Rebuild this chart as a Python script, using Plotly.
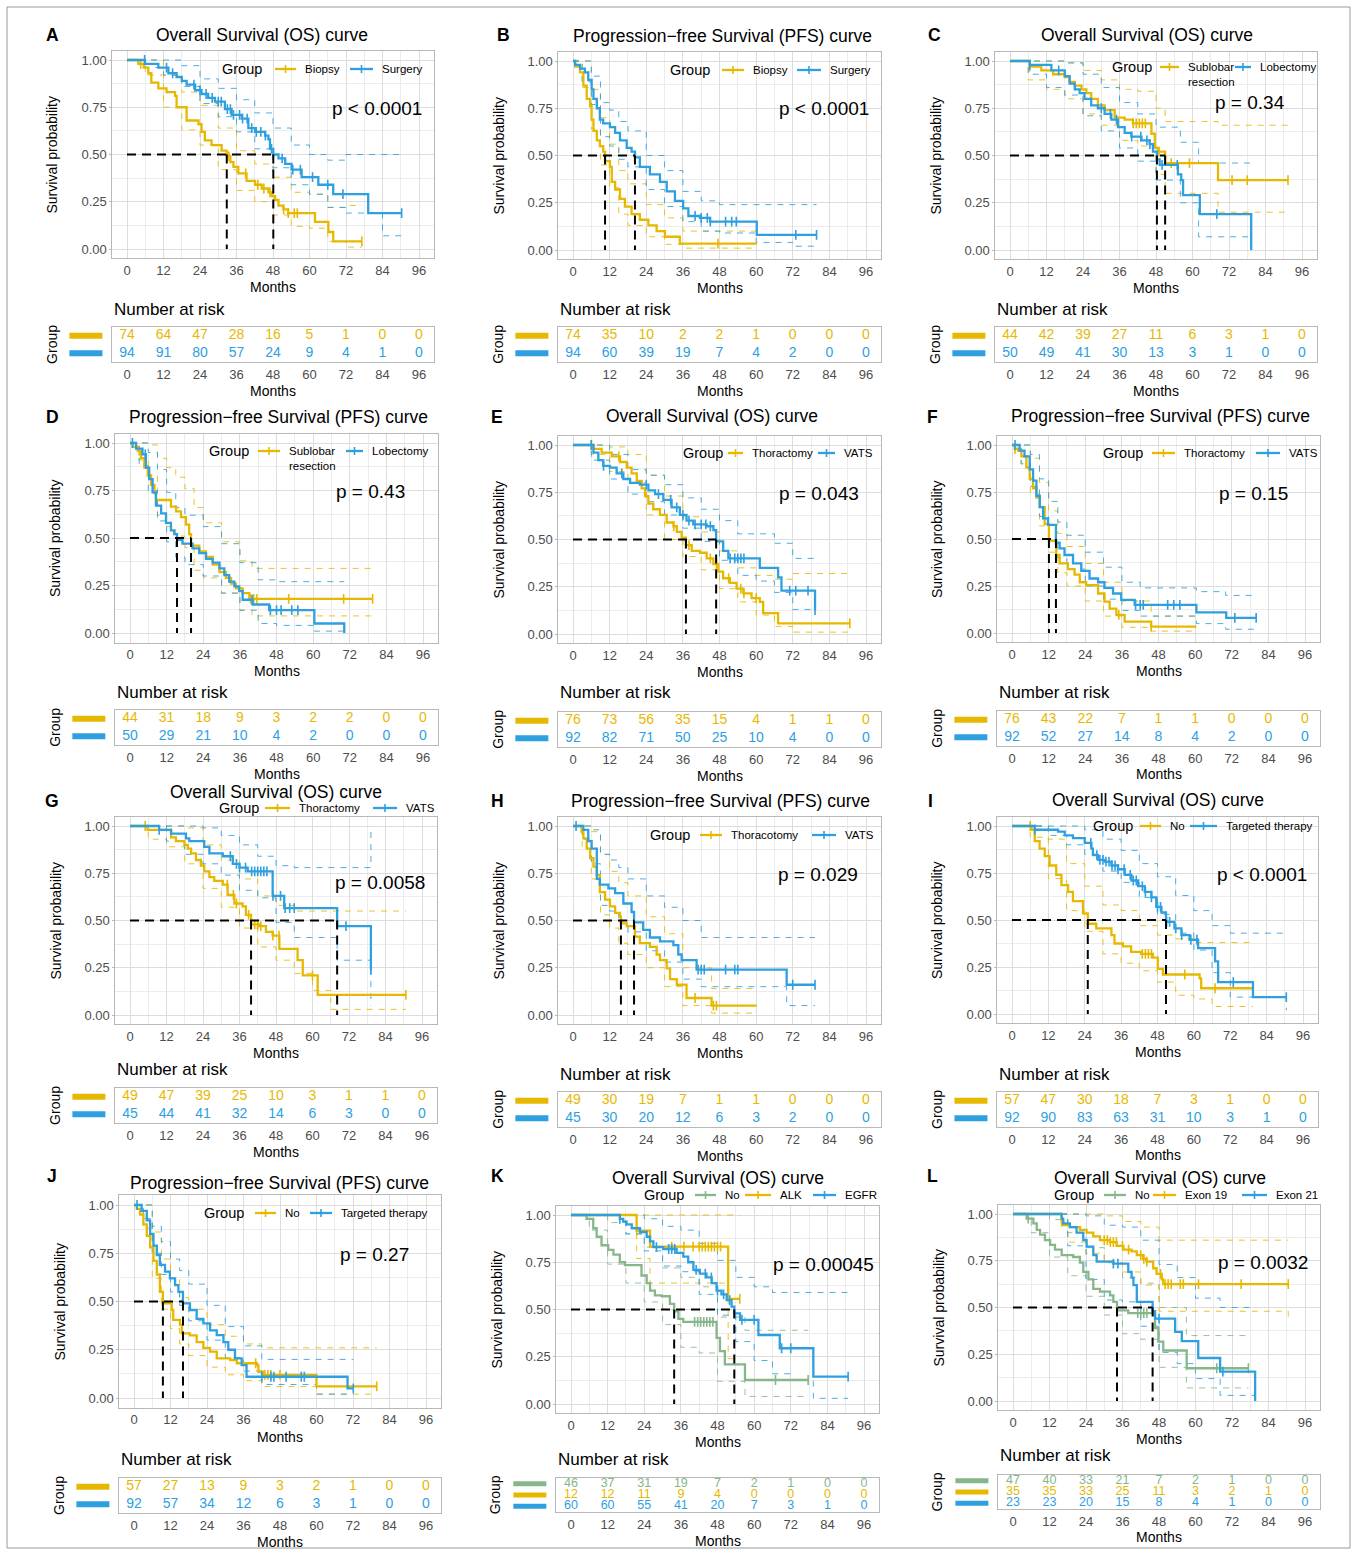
import numpy as np
import plotly.graph_objects as go

W, H = 1357, 1550
YEL, BLU, GRN = "#E7B800", "#2E9FDF", "#86B68A"
FONT = "Liberation Sans, Arial, sans-serif"
MONTHS = [0, 12, 24, 36, 48, 60, 72, 84, 96]
OS = "Overall Survival (OS) curve"
PFS = "Progression\u2212free Survival (PFS) curve"

# ---------------- Panel A ----------------
A_bio_t = [0, 3.7, 5.5, 7, 8, 10.3, 13, 15.8, 16.3, 19.6, 23.5, 24.5, 25.6, 27.8, 31.1, 32.8, 34, 35, 36.6, 39.3, 42.1, 44.3, 46.5, 47.6, 48.7, 49.8, 51.4, 53, 61.8, 66.2, 67.8, 77.2]
A_bio_s = [1, 0.98, 0.96, 0.93, 0.88, 0.85, 0.83, 0.81, 0.75, 0.68, 0.66, 0.62, 0.575, 0.55, 0.52, 0.49, 0.46, 0.435, 0.40, 0.36, 0.34, 0.32, 0.30, 0.28, 0.26, 0.23, 0.21, 0.19, 0.143, 0.09, 0.04, 0.04]
A_bio_c = [4.5, 33.5, 39, 43, 45, 47, 51.5, 53, 55, 56, 77.2]
A_bio_ct = [0, 6, 12, 18, 24, 30, 36, 42, 48, 54, 60, 66, 72, 77.2]
A_bio_up = [1, 1, 0.92, 0.83, 0.76, 0.64, 0.52, 0.45, 0.38, 0.30, 0.29, 0.22, 0.23, 0.23]
A_bio_lo = [1, 0.92, 0.75, 0.63, 0.55, 0.42, 0.31, 0.25, 0.18, 0.12, 0.11, 0.04, 0.01, 0.01]
A_sur_t = [0, 5.9, 10.3, 13.6, 16.3, 18, 19.6, 22.4, 24.5, 26.7, 28.9, 32.2, 34.4, 37.7, 39.9, 42.1, 45.4, 46.5, 47, 48.1, 49.8, 52, 54.1, 57.4, 62.9, 67.8, 79.3, 90.3]
A_sur_s = [1, 0.98, 0.96, 0.93, 0.91, 0.89, 0.87, 0.84, 0.82, 0.80, 0.78, 0.74, 0.71, 0.69, 0.64, 0.62, 0.60, 0.58, 0.53, 0.50, 0.48, 0.45, 0.42, 0.38, 0.34, 0.29, 0.19, 0.19]
A_sur_c = [5.8, 13, 15, 22, 24, 26, 28, 30, 31, 33, 34, 35, 37, 38, 39.5, 41, 42.5, 44, 45.5, 47.5, 51, 54.5, 57, 61, 66, 71, 90.3]
A_sur_ct = [0, 6, 12, 18, 24, 30, 36, 42, 48, 54, 60, 66, 72, 84, 90.3]
A_sur_up = [1, 1, 1, 0.97, 0.90, 0.85, 0.79, 0.72, 0.64, 0.55, 0.50, 0.47, 0.50, 0.50, 0.50]
A_sur_lo = [1, 0.96, 0.92, 0.86, 0.77, 0.70, 0.62, 0.53, 0.43, 0.34, 0.29, 0.22, 0.19, 0.07, 0.07]
A_bio_risk = [74, 64, 47, 28, 16, 5, 1, 0, 0]
A_sur_risk = [94, 91, 80, 57, 24, 9, 4, 1, 0]

# ---------------- Panel B ----------------
B_bio_t = [0, 0.7, 2.3, 3.4, 4.5, 5.6, 6.1, 6.7, 7.8, 8.8, 9.9, 10.5, 12.1, 12.7, 13.8, 15.4, 17, 19.2, 21.9, 24.7, 27.4, 30.1, 35, 60.2]
B_bio_s = [1, 0.97, 0.94, 0.87, 0.80, 0.76, 0.69, 0.63, 0.58, 0.55, 0.52, 0.47, 0.44, 0.36, 0.32, 0.27, 0.23, 0.19, 0.16, 0.13, 0.10, 0.07, 0.034, 0.034]
B_bio_c = [47.5]
B_bio_ct = [0, 3, 6, 9, 12, 15, 18, 24, 30, 36, 48, 60.2]
B_bio_up = [1, 1, 0.85, 0.70, 0.56, 0.42, 0.35, 0.24, 0.17, 0.10, 0.10, 0.10]
B_bio_lo = [1, 0.86, 0.64, 0.45, 0.33, 0.19, 0.13, 0.07, 0.03, 0.01, 0.01, 0.01]
B_sur_t = [0, 0.7, 2.3, 3.9, 5, 6.1, 6.7, 7.8, 8.8, 9.9, 12.1, 13.8, 15.4, 17.6, 19.2, 20.3, 21.9, 25.2, 28.5, 30.7, 33.4, 36.1, 37.8, 41.6, 44.9, 60.2, 79.8]
B_sur_s = [1, 0.98, 0.96, 0.94, 0.90, 0.85, 0.80, 0.75, 0.69, 0.67, 0.65, 0.62, 0.58, 0.54, 0.52, 0.49, 0.44, 0.40, 0.36, 0.31, 0.26, 0.22, 0.18, 0.17, 0.15, 0.08, 0.08]
B_sur_c = [40, 42, 44, 45, 50, 52, 53.5, 73, 79.8]
B_sur_ct = [0, 3, 6, 9, 12, 15, 18, 24, 30, 36, 42, 48, 60, 72, 79.8]
B_sur_up = [1, 1, 0.92, 0.78, 0.74, 0.68, 0.63, 0.50, 0.42, 0.31, 0.26, 0.24, 0.24, 0.24, 0.24]
B_sur_lo = [1, 0.89, 0.77, 0.60, 0.55, 0.48, 0.44, 0.32, 0.23, 0.15, 0.10, 0.09, 0.04, 0.02, 0.02]
B_bio_risk = [74, 35, 10, 2, 2, 1, 0, 0, 0]
B_sur_risk = [94, 60, 39, 19, 7, 4, 2, 0, 0]

# ---------------- Panel C ----------------
C_sub_t = [0, 6.5, 10.3, 14.2, 18, 19.6, 21.3, 23.5, 25.1, 26.7, 28.9, 31.1, 34.4, 37.7, 40.4, 46.5, 47.6, 48.7, 51, 68.4, 91.4]
C_sub_s = [1, 0.97, 0.95, 0.93, 0.915, 0.89, 0.87, 0.85, 0.83, 0.80, 0.765, 0.74, 0.70, 0.69, 0.67, 0.615, 0.54, 0.52, 0.46, 0.37, 0.37]
C_sub_c = [6.5, 40.5, 41.5, 42.5, 43.5, 44.5, 49, 53, 59, 73, 78, 91.4]
C_sub_ct = [0, 6, 12, 18, 24, 30, 36, 42, 48, 51, 68.4, 91.4]
C_sub_up = [1, 1, 1, 0.99, 0.95, 0.90, 0.85, 0.84, 0.75, 0.68, 0.66, 0.66]
C_sub_lo = [1, 0.90, 0.85, 0.80, 0.72, 0.66, 0.58, 0.55, 0.40, 0.30, 0.20, 0.20]
C_lob_t = [0, 6.5, 13.6, 18, 19.6, 21.3, 22.9, 24.5, 26.7, 28.9, 31.1, 33.3, 35.5, 37.7, 39.9, 43.2, 45.9, 47, 48.3, 49.2, 55.2, 56.3, 56.9, 62.4, 79.3]
C_lob_s = [1, 0.98, 0.95, 0.92, 0.88, 0.85, 0.83, 0.80, 0.765, 0.75, 0.72, 0.69, 0.65, 0.62, 0.60, 0.58, 0.56, 0.52, 0.48, 0.45, 0.40, 0.37, 0.29, 0.19, 0.0]
C_lob_c = [6.5, 16, 30, 33, 35, 40, 43, 45, 46, 50, 55, 68]
C_lob_ct = [0, 6, 12, 18, 24, 30, 36, 42, 48, 56, 62, 79.3]
C_lob_up = [1, 1, 1, 0.99, 0.93, 0.86, 0.78, 0.72, 0.65, 0.57, 0.46, 0.46]
C_lob_lo = [1, 0.93, 0.86, 0.82, 0.71, 0.63, 0.54, 0.47, 0.37, 0.25, 0.07, 0.07]
C_sub_risk = [44, 42, 39, 27, 11, 6, 3, 1, 0]
C_lob_risk = [50, 49, 41, 30, 13, 3, 1, 0, 0]

# ---------------- Panel D ----------------
D_sub_t = [0, 0.9, 2.5, 3.6, 4.7, 5.8, 6.9, 8.0, 8.5, 13.4, 15.1, 16.7, 18.3, 19.4, 20, 22.7, 24.9, 27.1, 29.3, 31.4, 33.1, 34.7, 36.9, 39.1, 79.5]
D_sub_s = [1, 0.98, 0.96, 0.92, 0.87, 0.83, 0.78, 0.735, 0.70, 0.665, 0.64, 0.61, 0.57, 0.52, 0.46, 0.43, 0.40, 0.36, 0.32, 0.29, 0.26, 0.235, 0.21, 0.18, 0.18]
D_sub_c = [3, 39.5, 40.5, 41.5, 52, 70, 79.5]
D_sub_ct = [0, 3, 6, 9, 12, 15, 18, 21, 24, 30, 36, 40, 79.5]
D_sub_up = [1, 1, 0.99, 0.92, 0.87, 0.82, 0.76, 0.66, 0.58, 0.48, 0.38, 0.34, 0.34]
D_sub_lo = [1, 0.91, 0.83, 0.62, 0.56, 0.51, 0.45, 0.33, 0.29, 0.21, 0.12, 0.09, 0.09]
D_lob_t = [0, 2, 4.1, 5.2, 6.3, 7.4, 8.5, 10.2, 11.8, 13.4, 14.5, 15.4, 17.2, 20.5, 22.7, 24.9, 27.1, 29.3, 30.9, 32.5, 34.2, 35.8, 36.9, 40.2, 45.6, 60.4, 70.2]
D_lob_s = [1, 0.97, 0.94, 0.87, 0.81, 0.74, 0.67, 0.63, 0.58, 0.54, 0.52, 0.49, 0.47, 0.445, 0.42, 0.39, 0.37, 0.34, 0.305, 0.27, 0.245, 0.22, 0.175, 0.15, 0.12, 0.05, 0.0]
D_lob_c = [0.8, 5, 40, 46, 48, 49.5, 53, 55]
D_lob_ct = [0, 3, 6, 9, 12, 15, 18, 24, 30, 36, 42, 48, 60.4, 70.2]
D_lob_up = [1, 1, 0.95, 0.86, 0.74, 0.66, 0.62, 0.56, 0.47, 0.37, 0.28, 0.27, 0.27, 0.27]
D_lob_lo = [1, 0.88, 0.75, 0.59, 0.48, 0.40, 0.36, 0.30, 0.21, 0.12, 0.05, 0.04, 0.01, 0.0]
D_sub_risk = [44, 31, 18, 9, 3, 2, 2, 0, 0]
D_lob_risk = [50, 29, 21, 10, 4, 2, 0, 0, 0]

# ---------------- Panel E ----------------
E_tho_t = [0, 6.7, 9.4, 12.7, 15.4, 17.6, 19.2, 20.9, 22.5, 23.6, 24.7, 26.3, 28.5, 30.7, 32.9, 34, 35.6, 37, 38.9, 41.6, 43.8, 46, 47.6, 49.2, 51.4, 53.6, 55.8, 58.5, 61.2, 62.3, 67.2, 90.7]
E_tho_s = [1, 0.98, 0.96, 0.94, 0.91, 0.88, 0.85, 0.81, 0.77, 0.73, 0.69, 0.66, 0.63, 0.59, 0.57, 0.54, 0.51, 0.47, 0.44, 0.43, 0.40, 0.37, 0.33, 0.295, 0.27, 0.24, 0.215, 0.19, 0.17, 0.11, 0.056, 0.056]
E_tho_c = [6, 15, 33, 38, 45, 47, 51, 55, 56, 60, 90.7]
E_tho_ct = [0, 6, 12, 18, 24, 30, 36, 42, 48, 54, 60, 66, 72, 90.7]
E_tho_up = [1, 1, 0.99, 0.95, 0.84, 0.73, 0.62, 0.54, 0.44, 0.35, 0.31, 0.29, 0.32, 0.32]
E_tho_lo = [1, 0.95, 0.86, 0.80, 0.63, 0.50, 0.41, 0.34, 0.24, 0.17, 0.10, 0.04, 0.01, 0.01]
E_vat_t = [0, 6.7, 8.3, 9.9, 12.1, 14.3, 16.5, 18.7, 21.9, 24.7, 26.9, 29.6, 32.3, 35, 37.2, 39.4, 43.8, 46, 46.9, 49.2, 50.9, 61.2, 67.2, 68.3, 79.3]
E_vat_s = [1, 0.96, 0.92, 0.89, 0.88, 0.85, 0.82, 0.80, 0.79, 0.76, 0.74, 0.71, 0.67, 0.63, 0.60, 0.58, 0.57, 0.55, 0.49, 0.44, 0.40, 0.35, 0.30, 0.23, 0.127]
E_vat_c = [6, 10, 16, 24, 28, 32, 34, 36, 38, 40, 42, 43.5, 45, 51.5, 53, 54, 55, 56, 71, 73, 77, 79.3]
E_vat_ct = [0, 6, 12, 18, 24, 30, 36, 42, 48, 54, 60, 66, 72, 79.3]
E_vat_up = [1, 1, 0.95, 0.87, 0.84, 0.79, 0.72, 0.66, 0.60, 0.53, 0.53, 0.48, 0.40, 0.40]
E_vat_lo = [1, 0.92, 0.82, 0.74, 0.70, 0.63, 0.56, 0.49, 0.39, 0.31, 0.28, 0.22, 0.13, 0.13]
E_tho_risk = [76, 73, 56, 35, 15, 4, 1, 1, 0]
E_vat_risk = [92, 82, 71, 50, 25, 10, 4, 0, 0]

# ---------------- Panel F ----------------
F_tho_t = [0, 0.9, 2, 3.1, 4.7, 5.8, 6.9, 8, 9.1, 10.7, 12.1, 14.5, 15.6, 18.3, 20.5, 22.2, 24.3, 28.2, 30.3, 32, 34.2, 36.9, 45.6, 60.4]
F_tho_s = [1, 0.98, 0.97, 0.94, 0.88, 0.82, 0.77, 0.72, 0.67, 0.58, 0.49, 0.415, 0.37, 0.34, 0.31, 0.27, 0.255, 0.21, 0.167, 0.13, 0.096, 0.06, 0.034, 0.034]
F_tho_c = [1, 35, 45.6]
F_tho_ct = [0, 3, 6, 9, 12, 15, 18, 24, 30, 36, 45.6, 60.4]
F_tho_up = [1, 1, 0.93, 0.80, 0.65, 0.53, 0.46, 0.37, 0.27, 0.17, 0.09, 0.09]
F_tho_lo = [1, 0.90, 0.74, 0.57, 0.43, 0.32, 0.25, 0.17, 0.09, 0.03, 0.01, 0.01]
F_vat_t = [0, 2.5, 4.1, 5.8, 6.9, 8, 9.1, 10.2, 11.8, 14.4, 15.6, 17.2, 20, 22.7, 25.4, 28.2, 30.3, 33.1, 35.8, 40.2, 60.4, 70.2, 80]
F_vat_s = [1, 0.97, 0.94, 0.87, 0.81, 0.73, 0.67, 0.61, 0.575, 0.48, 0.45, 0.415, 0.37, 0.33, 0.29, 0.27, 0.24, 0.21, 0.176, 0.15, 0.11, 0.08, 0.08]
F_vat_c = [1, 40.5, 42, 43, 51, 53, 55, 73, 80]
F_vat_ct = [0, 3, 6, 9, 12, 15, 18, 24, 30, 36, 42, 60.4, 70, 80]
F_vat_up = [1, 1, 0.95, 0.82, 0.70, 0.59, 0.52, 0.43, 0.35, 0.27, 0.24, 0.22, 0.20, 0.20]
F_vat_lo = [1, 0.90, 0.78, 0.62, 0.49, 0.40, 0.34, 0.25, 0.18, 0.12, 0.09, 0.05, 0.02, 0.02]
F_tho_risk = [76, 43, 22, 7, 1, 1, 0, 0, 0]
F_vat_risk = [92, 52, 27, 14, 8, 4, 2, 0, 0]

# ---------------- Panel G ----------------
G_tho_t = [0, 5.8, 13.5, 15.1, 17.9, 19, 20.1, 21.7, 23.3, 24.4, 26.1, 27.7, 30.5, 32.1, 34.3, 37, 38.1, 39.8, 42.5, 44.7, 46.9, 49.1, 55.1, 56.8, 61.7, 90.7]
G_tho_s = [1, 0.98, 0.94, 0.92, 0.90, 0.88, 0.855, 0.82, 0.79, 0.76, 0.73, 0.71, 0.69, 0.635, 0.59, 0.575, 0.53, 0.48, 0.47, 0.44, 0.42, 0.35, 0.29, 0.21, 0.106, 0.106]
G_tho_c = [5, 32, 34, 35, 39, 41, 42, 43, 47, 49, 60, 90.7]
G_tho_ct = [0, 6, 12, 18, 24, 30, 36, 42, 48, 54, 60, 66, 90.7]
G_tho_up = [1, 1, 1, 0.99, 0.90, 0.82, 0.72, 0.63, 0.58, 0.55, 0.55, 0.55, 0.55]
G_tho_lo = [1, 0.93, 0.89, 0.80, 0.67, 0.57, 0.46, 0.36, 0.29, 0.22, 0.13, 0.03, 0.03]
G_vat_t = [0, 9.6, 13.5, 18.4, 19.5, 24.4, 26.1, 30.5, 33.8, 36, 38.7, 46.9, 50.7, 68.1, 79.2]
G_vat_s = [1, 0.98, 0.96, 0.935, 0.92, 0.89, 0.855, 0.84, 0.80, 0.78, 0.76, 0.63, 0.565, 0.47, 0.24]
G_vat_c = [9.6, 33, 35, 36, 38, 40, 41, 42, 43, 44, 45, 47, 49.5, 51, 52.5, 54, 71, 79.2]
G_vat_ct = [0, 6, 12, 18, 24, 30, 36, 42, 48, 54, 66, 68.1, 79.2]
G_vat_up = [1, 1, 1, 1, 0.99, 0.95, 0.90, 0.84, 0.79, 0.78, 0.78, 0.78, 1.0]
G_vat_lo = [1, 1, 0.92, 0.85, 0.80, 0.74, 0.66, 0.62, 0.49, 0.41, 0.41, 0.29, 0.05]
G_tho_risk = [49, 47, 39, 25, 10, 3, 1, 1, 0]
G_vat_risk = [45, 44, 41, 32, 14, 6, 3, 0, 0]

# ---------------- Panel H ----------------
H_tho_t = [0, 2.8, 3.4, 4.5, 5.6, 6.7, 7.8, 8.8, 10.5, 12.1, 13.8, 15.4, 15.7, 17.6, 20.3, 21.9, 25.2, 27.4, 28.5, 30.7, 31.8, 34, 37.2, 45.4, 60.2]
H_tho_s = [1, 0.97, 0.935, 0.88, 0.83, 0.785, 0.74, 0.65, 0.61, 0.575, 0.54, 0.52, 0.485, 0.47, 0.415, 0.38, 0.36, 0.32, 0.29, 0.247, 0.19, 0.16, 0.09, 0.05, 0.05]
H_tho_c = [40, 46, 47]
H_tho_ct = [0, 3, 6, 9, 12, 15, 18, 24, 30, 36, 45.4, 60.2]
H_tho_up = [1, 1, 0.97, 0.85, 0.76, 0.70, 0.63, 0.52, 0.43, 0.25, 0.14, 0.14]
H_tho_lo = [1, 0.88, 0.72, 0.53, 0.46, 0.38, 0.32, 0.25, 0.15, 0.05, 0.01, 0.01]
H_vat_t = [0, 3.4, 5, 6.1, 7.8, 8.8, 11.6, 13.8, 16.5, 19.2, 20, 23, 25.2, 28.5, 32.9, 34.5, 35.6, 40.5, 70, 79.3]
H_vat_s = [1, 0.98, 0.92, 0.88, 0.72, 0.69, 0.67, 0.645, 0.59, 0.545, 0.49, 0.45, 0.41, 0.39, 0.37, 0.32, 0.29, 0.24, 0.16, 0.16]
H_vat_c = [1, 41, 42, 43, 50, 53, 54, 72, 79.3]
H_vat_ct = [0, 3, 6, 9, 12, 15, 18, 24, 30, 36, 42, 60, 70, 79.3]
H_vat_up = [1, 1, 0.98, 0.85, 0.82, 0.78, 0.72, 0.63, 0.57, 0.50, 0.41, 0.41, 0.41, 0.41]
H_vat_lo = [1, 0.93, 0.80, 0.58, 0.55, 0.50, 0.44, 0.34, 0.28, 0.19, 0.15, 0.15, 0.05, 0.05]
H_tho_risk = [49, 30, 19, 7, 1, 1, 0, 0, 0]
H_vat_risk = [45, 30, 20, 12, 6, 3, 2, 0, 0]

# ---------------- Panel I ----------------
I_no_t = [0, 6.4, 7.5, 9.1, 10.8, 12.4, 14.6, 16.3, 18.5, 20.1, 23.4, 25, 27.8, 32.8, 33.8, 36.6, 39.3, 42.6, 46.5, 48.1, 49.8, 61.9, 62.4, 79.5]
I_no_s = [1, 0.98, 0.92, 0.88, 0.84, 0.79, 0.74, 0.685, 0.65, 0.60, 0.535, 0.48, 0.455, 0.42, 0.375, 0.36, 0.33, 0.32, 0.30, 0.24, 0.21, 0.19, 0.137, 0.137]
I_no_c = [6, 43, 44, 45, 46, 57, 67, 79.5]
I_no_ct = [0, 6, 12, 18, 24, 30, 36, 42, 48, 54, 60, 66, 79.5]
I_no_up = [1, 1, 0.93, 0.80, 0.68, 0.58, 0.55, 0.47, 0.42, 0.40, 0.38, 0.38, 0.38]
I_no_lo = [1, 0.94, 0.72, 0.55, 0.44, 0.32, 0.27, 0.23, 0.17, 0.10, 0.08, 0.04, 0.04]
I_tt_t = [0, 7.5, 15.2, 17.4, 20.1, 24, 26.2, 26.7, 28.4, 30.6, 32.8, 35, 37.2, 39.4, 41.6, 43.8, 46, 47.6, 49.3, 50.8, 53.6, 55.9, 58.6, 61.4, 67, 68, 79.5, 90.5]
I_tt_s = [1, 0.98, 0.97, 0.95, 0.935, 0.91, 0.88, 0.845, 0.82, 0.81, 0.79, 0.77, 0.74, 0.71, 0.68, 0.65, 0.62, 0.57, 0.54, 0.49, 0.455, 0.42, 0.395, 0.35, 0.28, 0.17, 0.09, 0.09]
I_tt_c = [7.5, 26, 28, 29, 30, 31, 32, 33, 34, 35, 37, 39, 40, 41, 43, 44, 46, 48, 49, 51, 52, 54, 56, 59, 61, 73, 90.5]
I_tt_ct = [0, 6, 12, 18, 24, 30, 36, 42, 48, 54, 60, 66, 72, 90.5]
I_tt_up = [1, 1, 1, 1, 0.98, 0.93, 0.87, 0.80, 0.73, 0.63, 0.55, 0.47, 0.43, 0.43]
I_tt_lo = [1, 1, 0.95, 0.90, 0.85, 0.76, 0.70, 0.62, 0.53, 0.43, 0.34, 0.22, 0.09, 0.02]
I_no_risk = [57, 47, 30, 18, 7, 3, 1, 0, 0]
I_tt_risk = [92, 90, 83, 63, 31, 10, 3, 1, 0]

# ---------------- Panel J ----------------
J_no_t = [0, 0.9, 2, 3.1, 4.2, 5.3, 6.4, 7.5, 8.5, 9.5, 12.4, 12.9, 15.1, 15.7, 18.4, 20.6, 22.8, 25, 27.2, 31.6, 33.8, 40.4, 40.9, 42.5, 60, 79.8]
J_no_s = [1, 0.98, 0.95, 0.90, 0.84, 0.78, 0.71, 0.64, 0.55, 0.49, 0.456, 0.405, 0.38, 0.335, 0.325, 0.29, 0.26, 0.24, 0.205, 0.197, 0.18, 0.17, 0.136, 0.12, 0.06, 0.06]
J_no_c = [40, 43, 44, 45, 48, 79.8]
J_no_ct = [0, 3, 6, 9, 12, 15, 18, 24, 30, 36, 42, 60, 79.8]
J_no_up = [1, 1, 0.86, 0.72, 0.62, 0.52, 0.46, 0.38, 0.32, 0.28, 0.26, 0.26, 0.26]
J_no_lo = [1, 0.88, 0.62, 0.46, 0.36, 0.28, 0.22, 0.16, 0.12, 0.09, 0.06, 0.02, 0.02]
J_tt_t = [0, 2.5, 4.2, 5.3, 6.4, 7.5, 8.5, 10.2, 11.8, 13.5, 14.6, 16.1, 18.4, 20.6, 22.8, 25, 27.2, 29.4, 31, 33.2, 35.4, 37, 70.2, 72.1]
J_tt_s = [1, 0.97, 0.92, 0.85, 0.79, 0.74, 0.69, 0.655, 0.62, 0.585, 0.55, 0.49, 0.456, 0.41, 0.387, 0.35, 0.326, 0.29, 0.25, 0.205, 0.17, 0.11, 0.05, 0.05]
J_tt_c = [1, 42, 45, 46, 50, 55, 56, 72.1]
J_tt_ct = [0, 3, 6, 9, 12, 15, 18, 24, 30, 36, 42, 60, 72.1]
J_tt_up = [1, 1, 0.89, 0.81, 0.72, 0.66, 0.59, 0.48, 0.37, 0.27, 0.20, 0.20, 0.20]
J_tt_lo = [1, 0.93, 0.75, 0.64, 0.55, 0.48, 0.40, 0.30, 0.21, 0.14, 0.07, 0.02, 0.02]
J_no_risk = [57, 27, 13, 9, 3, 2, 1, 0, 0]
J_tt_risk = [92, 57, 34, 12, 6, 3, 1, 0, 0]

# ---------------- Panel K ----------------
K_no_t = [0, 5.1, 7.3, 8.4, 10, 12.2, 13.9, 16, 17.7, 23.1, 24.8, 25.9, 27.5, 29.7, 32.4, 33.8, 35.2, 36.8, 47.7, 48.8, 50.4, 57, 77.7]
K_no_s = [1, 0.98, 0.93, 0.885, 0.84, 0.815, 0.79, 0.75, 0.735, 0.68, 0.64, 0.60, 0.575, 0.57, 0.53, 0.49, 0.45, 0.435, 0.35, 0.28, 0.21, 0.127, 0.127]
K_no_c = [40.5, 41.5, 42.5, 43.5, 44.5, 45.5, 46.5, 67, 77.7]
K_no_ct = [0, 6, 12, 18, 24, 30, 36, 42, 48, 57, 77.7]
K_no_up = [1, 1, 0.96, 0.90, 0.83, 0.72, 0.67, 0.62, 0.46, 0.39, 0.39]
K_no_lo = [1, 0.92, 0.74, 0.64, 0.54, 0.42, 0.30, 0.27, 0.12, 0.04, 0.04]
K_alk_t = [0, 21.5, 25.9, 51.5, 55.3]
K_alk_s = [1, 0.917, 0.833, 0.556, 0.556]
K_alk_c = [21.5, 33, 37, 40, 42, 43, 44, 45, 46, 47, 48, 49, 55.3]
K_alk_ct = [0, 21.5, 25.9, 51.5, 55.3]
K_alk_up = [1, 1, 1, 1, 1]
K_alk_lo = [1, 0.77, 0.64, 0.24, 0.24]
K_egfr_t = [0, 16, 17.1, 18.2, 19.9, 22.6, 24.8, 25.9, 27, 30.2, 34.6, 36.8, 38.4, 40.1, 42.2, 44.4, 46.1, 47.7, 49.3, 51, 52.6, 53.5, 55.4, 61.4, 68.4, 79.4, 90.8]
K_egfr_s = [1, 0.98, 0.965, 0.95, 0.93, 0.91, 0.885, 0.86, 0.83, 0.82, 0.80, 0.78, 0.75, 0.71, 0.69, 0.67, 0.64, 0.60, 0.58, 0.55, 0.515, 0.48, 0.445, 0.365, 0.295, 0.145, 0.145]
K_egfr_c = [16, 28, 32, 33, 34, 41, 44, 46, 48, 50, 52, 56, 60, 69, 72, 90.8]
K_egfr_ct = [0, 12, 18, 24, 30, 36, 42, 48, 54, 60, 66, 72, 79.4, 90.8]
K_egfr_up = [1, 1, 1, 0.98, 0.94, 0.92, 0.85, 0.76, 0.67, 0.62, 0.59, 0.59, 0.59, 0.59]
K_egfr_lo = [1, 1, 0.90, 0.81, 0.73, 0.70, 0.58, 0.47, 0.33, 0.23, 0.16, 0.13, 0.03, 0.03]
K_no_risk = [46, 37, 31, 19, 7, 2, 1, 0, 0]
K_alk_risk = [12, 12, 11, 9, 4, 0, 0, 0, 0]
K_egfr_risk = [60, 60, 55, 41, 20, 7, 3, 1, 0]

# ---------------- Panel L ----------------
L_no_t = [0, 4.5, 6.7, 7.8, 8.9, 10.5, 12.2, 13.8, 16, 19.8, 22, 23.1, 24.8, 26.4, 28.6, 31.9, 33, 34.2, 37.9, 46.1, 46.7, 47.8, 49.4, 57.1, 77.4]
L_no_s = [1, 0.975, 0.95, 0.915, 0.89, 0.86, 0.835, 0.81, 0.78, 0.77, 0.74, 0.69, 0.65, 0.60, 0.585, 0.565, 0.53, 0.485, 0.47, 0.46, 0.39, 0.317, 0.27, 0.175, 0.175]
L_no_c = [5, 41, 42, 43, 44, 67, 77.4]
L_no_ct = [0, 6, 12, 18, 24, 30, 36, 42, 48, 57, 77.4]
L_no_up = [1, 1, 0.97, 0.90, 0.82, 0.74, 0.66, 0.63, 0.50, 0.35, 0.35]
L_no_lo = [1, 0.90, 0.77, 0.67, 0.56, 0.46, 0.36, 0.33, 0.18, 0.07, 0.07]
L_e19_t = [0, 16, 16.5, 18.7, 22, 24.2, 26.4, 28.6, 31.9, 34.1, 36.3, 39, 40.7, 42.8, 43.9, 46.1, 47.2, 48.9, 49.4, 90.5]
L_e19_s = [1, 0.96, 0.94, 0.93, 0.915, 0.90, 0.88, 0.86, 0.85, 0.83, 0.81, 0.80, 0.78, 0.76, 0.745, 0.71, 0.68, 0.65, 0.625, 0.625]
L_e19_c = [16, 30, 31, 32, 33, 34, 36, 38, 42, 43, 44, 48.5, 50, 51, 52, 55, 56, 61, 75, 90.5]
L_e19_ct = [0, 12, 18, 24, 30, 36, 42, 48, 90.5]
L_e19_up = [1, 1, 1, 1, 0.99, 0.96, 0.93, 0.86, 0.86]
L_e19_lo = [1, 1, 0.85, 0.79, 0.74, 0.69, 0.62, 0.48, 0.45]
L_e21_t = [0, 16, 16.5, 18.7, 20.9, 23.1, 24.2, 26.4, 27.5, 33, 37.9, 39, 39.6, 40.7, 45.9, 46.7, 53.3, 55.5, 60.9, 68.1, 79.6]
L_e21_s = [1, 0.975, 0.95, 0.93, 0.90, 0.86, 0.825, 0.78, 0.745, 0.735, 0.69, 0.66, 0.62, 0.53, 0.48, 0.44, 0.37, 0.32, 0.23, 0.157, 0.0]
L_e21_c = [33, 34.5, 48, 69]
L_e21_ct = [0, 12, 18, 24, 30, 36, 42, 48, 54, 60, 68.1, 79.6]
L_e21_up = [1, 1, 1, 0.99, 0.94, 0.93, 0.86, 0.73, 0.66, 0.55, 0.50, 0.50]
L_e21_lo = [1, 1, 0.83, 0.65, 0.54, 0.53, 0.40, 0.26, 0.20, 0.12, 0.03, 0.03]
L_no_risk = [47, 40, 33, 21, 7, 2, 1, 0, 0]
L_e19_risk = [35, 35, 33, 25, 11, 3, 2, 1, 0]
L_e21_risk = [23, 23, 20, 15, 8, 4, 1, 0, 0]

# ---------------- panel layout (pixel geometry) ----------------
def C(t, s, c, ct, up, lo, col, risk):
    return dict(t=t, s=s, c=c, ct=ct, up=up, lo=lo, col=col, risk=risk)

panels = [
    dict(L="A", title=OS, tc=(262, 35), lc=(52, 35), x0=127, x96=419, y1=60, y0=249, tab=(327, 362), nar=309, mo=287, tmo=391,
         p=("p < 0.0001", 377, 108), grp=(220, 69),
         leg=[(275, 303, "Biopsy"), (350, 380, "Surgery")],
         curves=[C(A_bio_t, A_bio_s, A_bio_c, A_bio_ct, A_bio_up, A_bio_lo, YEL, A_bio_risk),
                 C(A_sur_t, A_sur_s, A_sur_c, A_sur_ct, A_sur_up, A_sur_lo, BLU, A_sur_risk)]),
    dict(L="B", title=PFS, tc=(722, 36), lc=(503, 35), x0=573, x96=866, y1=61, y0=250, tab=(327, 362), nar=309, mo=288, tmo=391,
         p=("p < 0.0001", 824, 109), grp=(668, 70),
         leg=[(722, 751, "Biopsy"), (797, 828, "Surgery")],
         curves=[C(B_bio_t, B_bio_s, B_bio_c, B_bio_ct, B_bio_up, B_bio_lo, YEL, B_bio_risk),
                 C(B_sur_t, B_sur_s, B_sur_c, B_sur_ct, B_sur_up, B_sur_lo, BLU, B_sur_risk)]),
    dict(L="C", title=OS, tc=(1147, 35), lc=(934, 35), x0=1010, x96=1302, y1=61, y0=250, tab=(327, 362), nar=309, mo=288, tmo=391,
         p=("p = 0.34", 1250, 103), grp=(1110, 67),
         leg=[(1160, 1186, "Sublobar<br>resection"), (1235, 1258, "Lobectomy")],
         curves=[C(C_sub_t, C_sub_s, C_sub_c, C_sub_ct, C_sub_up, C_sub_lo, YEL, C_sub_risk),
                 C(C_lob_t, C_lob_s, C_lob_c, C_lob_ct, C_lob_up, C_lob_lo, BLU, C_lob_risk)]),
    dict(L="D", title=PFS, tc=(278, 417), lc=(52, 417), x0=130, x96=423, y1=443, y0=633, tab=(710, 745), nar=692, mo=671, tmo=774,
         p=("p = 0.43", 370, 492), grp=(207, 451),
         leg=[(258, 287, "Sublobar<br>resection"), (346, 370, "Lobectomy")],
         curves=[C(D_sub_t, D_sub_s, D_sub_c, D_sub_ct, D_sub_up, D_sub_lo, YEL, D_sub_risk),
                 C(D_lob_t, D_lob_s, D_lob_c, D_lob_ct, D_lob_up, D_lob_lo, BLU, D_lob_risk)]),
    dict(L="E", title=OS, tc=(712, 416), lc=(497, 417), x0=573, x96=866, y1=445, y0=634, tab=(712, 747), nar=693, mo=672, tmo=776,
         p=("p = 0.043", 819, 493), grp=(681, 453),
         leg=[(728, 750, "Thoractomy"), (818, 842, "VATS")],
         curves=[C(E_tho_t, E_tho_s, E_tho_c, E_tho_ct, E_tho_up, E_tho_lo, YEL, E_tho_risk),
                 C(E_vat_t, E_vat_s, E_vat_c, E_vat_ct, E_vat_up, E_vat_lo, BLU, E_vat_risk)]),
    dict(L="F", title=PFS, tc=(1160, 416), lc=(932, 417), x0=1012, x96=1305, y1=445, y0=633, tab=(711, 746), nar=692, mo=671, tmo=774,
         p=("p = 0.15", 1253, 493), grp=(1101, 453),
         leg=[(1152, 1182, "Thoractomy"), (1256, 1287, "VATS")],
         curves=[C(F_tho_t, F_tho_s, F_tho_c, F_tho_ct, F_tho_up, F_tho_lo, YEL, F_tho_risk),
                 C(F_vat_t, F_vat_s, F_vat_c, F_vat_ct, F_vat_up, F_vat_lo, BLU, F_vat_risk)]),
    dict(L="G", title=OS, tc=(276, 792), lc=(52, 801), x0=130, x96=422, y1=826, y0=1015, tab=(1088, 1123), nar=1069, mo=1053, tmo=1152,
         p=("p = 0.0058", 380, 882), grp=(217, 808),
         leg=[(265, 297, "Thoractomy"), (373, 404, "VATS")],
         curves=[C(G_tho_t, G_tho_s, G_tho_c, G_tho_ct, G_tho_up, G_tho_lo, YEL, G_tho_risk),
                 C(G_vat_t, G_vat_s, G_vat_c, G_vat_ct, G_vat_up, G_vat_lo, BLU, G_vat_risk)]),
    dict(L="H", title=PFS, tc=(720, 801), lc=(497, 801), x0=573, x96=866, y1=826, y0=1015, tab=(1092, 1127), nar=1074, mo=1053, tmo=1156,
         p=("p = 0.029", 818, 874), grp=(648, 835),
         leg=[(700, 729, "Thoracotomy"), (812, 843, "VATS")],
         curves=[C(H_tho_t, H_tho_s, H_tho_c, H_tho_ct, H_tho_up, H_tho_lo, YEL, H_tho_risk),
                 C(H_vat_t, H_vat_s, H_vat_c, H_vat_ct, H_vat_up, H_vat_lo, BLU, H_vat_risk)]),
    dict(L="I", title=OS, tc=(1158, 800), lc=(930, 801), x0=1012, x96=1303, y1=826, y0=1014, tab=(1092, 1127), nar=1074, mo=1052, tmo=1155,
         p=("p < 0.0001", 1262, 874), grp=(1091, 826),
         leg=[(1140, 1168, "No"), (1190, 1224, "Targeted therapy")],
         curves=[C(I_no_t, I_no_s, I_no_c, I_no_ct, I_no_up, I_no_lo, YEL, I_no_risk),
                 C(I_tt_t, I_tt_s, I_tt_c, I_tt_ct, I_tt_up, I_tt_lo, BLU, I_tt_risk)]),
    dict(L="J", title=PFS, tc=(279, 1183), lc=(52, 1176), x0=134, x96=426, y1=1205, y0=1398, tab=(1478, 1513), nar=1459, mo=1437, tmo=1542,
         p=("p = 0.27", 374, 1254), grp=(202, 1213),
         leg=[(255, 283, "No"), (310, 339, "Targeted therapy")],
         curves=[C(J_no_t, J_no_s, J_no_c, J_no_ct, J_no_up, J_no_lo, YEL, J_no_risk),
                 C(J_tt_t, J_tt_s, J_tt_c, J_tt_ct, J_tt_up, J_tt_lo, BLU, J_tt_risk)]),
    dict(L="K", title=OS, tc=(718, 1178), lc=(497, 1176), x0=571, x96=864, y1=1215, y0=1404, tab=(1478, 1512), nar=1459, mo=1442, tmo=1541,
         p=("p = 0.00045", 823, 1264), grp=(642, 1195),
         leg=[(695, 723, "No"), (745, 778, "ALK"), (813, 843, "EGFR")],
         curves=[C(K_no_t, K_no_s, K_no_c, K_no_ct, K_no_up, K_no_lo, GRN, K_no_risk),
                 C(K_alk_t, K_alk_s, K_alk_c, K_alk_ct, K_alk_up, K_alk_lo, YEL, K_alk_risk),
                 C(K_egfr_t, K_egfr_s, K_egfr_c, K_egfr_ct, K_egfr_up, K_egfr_lo, BLU, K_egfr_risk)]),
    dict(L="L", title=OS, tc=(1160, 1178), lc=(932, 1176), x0=1013, x96=1305, y1=1214, y0=1401, tab=(1475, 1509), nar=1455, mo=1439, tmo=1537,
         p=("p = 0.0032", 1263, 1262), grp=(1052, 1195),
         leg=[(1104, 1133, "No"), (1153, 1183, "Exon 19"), (1242, 1274, "Exon 21")],
         curves=[C(L_no_t, L_no_s, L_no_c, L_no_ct, L_no_up, L_no_lo, GRN, L_no_risk),
                 C(L_e19_t, L_e19_s, L_e19_c, L_e19_ct, L_e19_up, L_e19_lo, YEL, L_e19_risk),
                 C(L_e21_t, L_e21_s, L_e21_c, L_e21_ct, L_e21_up, L_e21_lo, BLU, L_e21_risk)]),
]

GRID = "#DDDDDD"
MINOR = "#ECECEC"
BORDER = "#B8B8B8"
TICKC = "#4D4D4D"

fig = go.Figure()
lay = {}
ann = []
shp = []


def fx(x):
    return x / W


def fy(y):
    return 1 - y / H


def text(x, y, s, size, **kw):
    d = dict(x=fx(x), y=fy(y), xref="paper", yref="paper", text=s, showarrow=False,
             xanchor="center", yanchor="middle",
             font=dict(size=size, color=kw.pop("color", "black"), family=FONT))
    d.update(kw)
    ann.append(d)


def pline(xa, ya, xb, yb, col, w, dash=None):
    d = dict(type="line", xref="paper", yref="paper", x0=fx(xa), y0=fy(ya), x1=fx(xb), y1=fy(yb),
             line=dict(color=col, width=w))
    if dash:
        d["line"]["dash"] = dash
    shp.append(d)


for i, P in enumerate(panels):
    kx, tx = 2 * i + 1, 2 * i + 2
    kxn = "x" if kx == 1 else f"x{kx}"
    kyn = "y" if kx == 1 else f"y{kx}"
    kxk = "xaxis" if kx == 1 else f"xaxis{kx}"
    kyk = "yaxis" if kx == 1 else f"yaxis{kx}"
    txn, tyn = f"x{tx}", f"y{tx}"
    sx = (P["x96"] - P["x0"]) / 96.0
    sy = P["y0"] - P["y1"]
    xl, xr = P["x0"] - 4.8 * sx, P["x0"] + 100.8 * sx
    yt, yb = P["y1"] - 0.05 * sy, P["y0"] + 0.05 * sy
    tt, tb = P["tab"]

    common_x = dict(range=[-4.8, 100.8], domain=[fx(xl), fx(xr)], tickmode="linear", tick0=0, dtick=12,
                    zeroline=False, showline=True, mirror=True, linecolor=BORDER, linewidth=1,
                    ticks="", tickfont=dict(size=13, color=TICKC, family=FONT), fixedrange=True)
    lay[kxk] = dict(common_x, anchor=kyn, showgrid=True, gridcolor=GRID, gridwidth=1,
                    minor=dict(dtick=6, tick0=0, showgrid=True, gridcolor=MINOR, gridwidth=1))
    lay[kyk] = dict(range=[-0.05, 1.05], domain=[fy(yb), fy(yt)], anchor=kxn, tickmode="linear", tick0=0,
                    dtick=0.25, tickformat=".2f", showgrid=True, gridcolor=GRID, gridwidth=1,
                    minor=dict(dtick=0.125, tick0=0, showgrid=True, gridcolor=MINOR, gridwidth=1),
                    zeroline=False, showline=True, mirror=True, linecolor=BORDER, linewidth=1,
                    ticks="outside", ticklen=2, tickcolor=BORDER,
                    tickfont=dict(size=13, color=TICKC, family=FONT), fixedrange=True)
    nrow = len(P["curves"])
    lay[f"xaxis{tx}"] = dict(common_x, anchor=tyn, showgrid=False)
    lay[f"yaxis{tx}"] = dict(range=[nrow + 0.5, 0.5], domain=[fy(tb), fy(tt)], anchor=txn, showgrid=False,
                             zeroline=False, showline=True, mirror=True, linecolor=BORDER, linewidth=1,
                             showticklabels=False, ticks="", fixedrange=True)

    # curves
    meds = []
    for cv in P["curves"]:
        col = cv["col"]
        for ci in (cv["up"], cv["lo"]):
            fig.add_trace(go.Scatter(x=cv["ct"], y=ci, mode="lines", line=dict(color=col, width=1, dash="6px,6px", shape="hv"),
                                     opacity=0.85, xaxis=kxn, yaxis=kyn, hoverinfo="skip"))
    for cv in P["curves"]:
        col = cv["col"]
        fig.add_trace(go.Scatter(x=cv["t"], y=cv["s"], mode="lines", line=dict(color=col, width=2.3, shape="hv"),
                                 xaxis=kxn, yaxis=kyn, hoverinfo="skip"))
        tarr = np.array(cv["t"])
        cy = [cv["s"][int(np.searchsorted(tarr, c, side="right")) - 1] for c in cv["c"]]
        fig.add_trace(go.Scatter(x=cv["c"], y=cy, mode="markers",
                                 marker=dict(symbol="line-ns-open", size=7, color=col, line=dict(color=col, width=1.6)),
                                 xaxis=kxn, yaxis=kyn, hoverinfo="skip"))
        sarr = np.array(cv["s"])
        idx = np.where(sarr <= 0.5)[0]
        if len(idx):
            meds.append(cv["t"][idx[0]])
    if meds:
        fig.add_trace(go.Scatter(x=[0, max(meds)], y=[0.5, 0.5], mode="lines",
                                 line=dict(color="black", width=2, dash="9px,6px"), xaxis=kxn, yaxis=kyn, hoverinfo="skip"))
        for m in meds:
            fig.add_trace(go.Scatter(x=[m, m], y=[0.5, 0], mode="lines",
                                     line=dict(color="black", width=2, dash="9px,6px"), xaxis=kxn, yaxis=kyn, hoverinfo="skip"))

    # risk table
    fsz = 14 if nrow == 2 else 12.5
    for j, cv in enumerate(P["curves"]):
        fig.add_trace(go.Scatter(x=MONTHS, y=[j + 1] * len(MONTHS), mode="text", text=[str(v) for v in cv["risk"]],
                                 textfont=dict(color=cv["col"], size=fsz, family=FONT), xaxis=txn, yaxis=tyn,
                                 hoverinfo="skip"))
        ry = tt + (j + 0.5) * (tb - tt) / nrow
        pline(xl - 43, ry, xl - 10, ry, cv["col"], 6 if nrow == 2 else 5)

    # texts
    text(P["tc"][0], P["tc"][1], P["title"], 17.5)
    text(P["lc"][0], P["lc"][1], "<b>" + P["L"] + "</b>", 17.5)
    text(P["x0"] - 75, (P["y1"] + P["y0"]) / 2, "Survival probability", 14, textangle=-90)
    text((P["x0"] + P["x96"]) / 2, P["mo"], "Months", 14)
    text(xl, P["nar"], "Number at risk", 17, xanchor="left")
    text((P["x0"] + P["x96"]) / 2, P["tmo"], "Months", 14)
    text(xl - 61, (tt + tb) / 2, "Group", 14, textangle=-90)
    text(P["p"][1], P["p"][2], P["p"][0], 19)

    # legend
    gx, gy = P["grp"]
    text(gx, gy, "Group", 14.5, xanchor="left")
    for (sxs, lx, lab), cv in zip(P["leg"], P["curves"]):
        pline(sxs, gy, lx - 7, gy, cv["col"], 2.3)
        mid = (sxs + lx - 7) / 2
        pline(mid, gy - 4, mid, gy + 4, cv["col"], 1.6)
        if "<br>" in lab:
            text(lx, gy - 8, lab, 11.5, xanchor="left", yanchor="top", align="left")
        else:
            text(lx, gy, lab, 11.5, xanchor="left")

# outer frame
shp.append(dict(type="rect", xref="paper", yref="paper", x0=fx(7), y0=fy(1548), x1=fx(1350), y1=fy(7),
                line=dict(color="#9A9A9A", width=1)))

fig.update_layout(width=W, height=H, margin=dict(l=0, r=0, t=0, b=0), autosize=False,
                  paper_bgcolor="white", plot_bgcolor="white", showlegend=False,
                  font=dict(family=FONT), annotations=ann, shapes=shp, **lay)
fig.write_html("out.html", config={"displayModeBar": False, "staticPlot": True},
               post_script="document.body.style.margin='0px';document.body.style.overflow='hidden';")
